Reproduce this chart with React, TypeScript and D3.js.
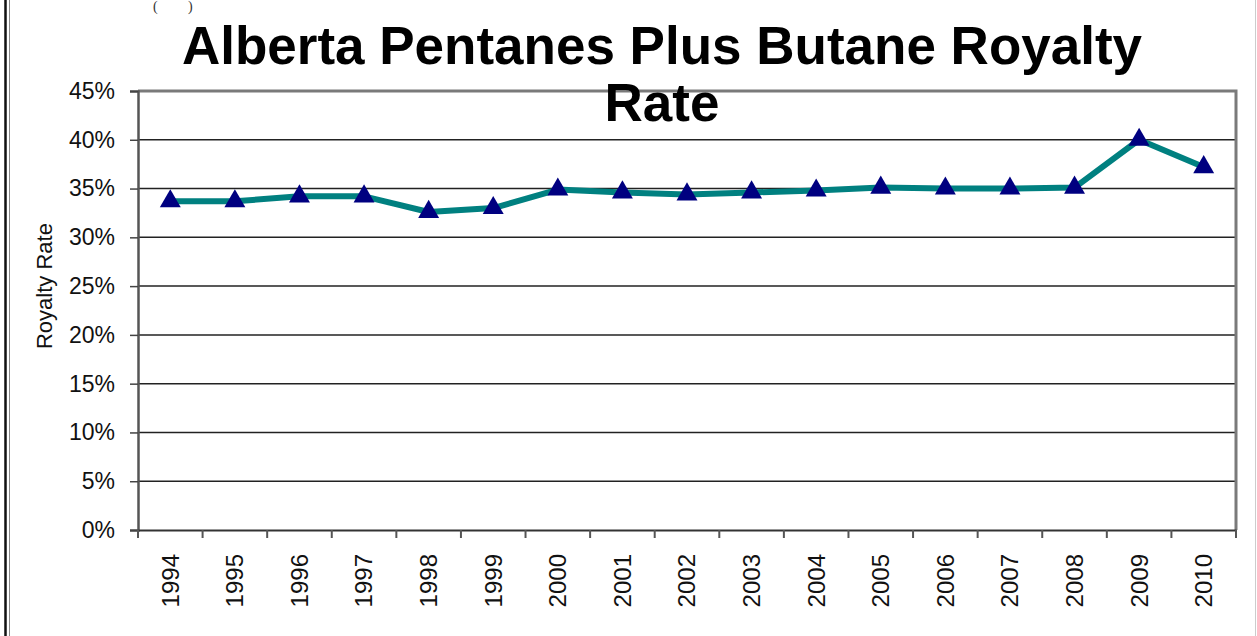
import { useEffect, useRef } from 'react';
import * as d3 from 'd3';

const years = ['1994', '1995', '1996', '1997', '1998', '1999', '2000', '2001', '2002',
    '2003', '2004', '2005', '2006', '2007', '2008', '2009', '2010'];
const royaltyRate = [33.7, 33.7, 34.2, 34.2, 32.6, 33.0, 34.9, 34.6, 34.4,
    34.6, 34.8, 35.1, 35.0, 35.0, 35.1, 40.0, 37.2];
const yTicks = [0, 5, 10, 15, 20, 25, 30, 35, 40, 45];

const titleLines = ['Alberta Pentanes Plus Butane Royalty', 'Rate'];

export default function App() {
    const svgRef = useRef<SVGSVGElement>(null);

    useEffect(() => {
        if (!svgRef.current) return;
        const svg = d3.select(svgRef.current);
        svg.selectAll('*').remove();

        const width = 1257;
        const height = 636;
        const margin = { left: 138, right: 21, top: 91, bottom: 106 };
        const font = 'Liberation Sans, Arial, sans-serif';

        const x = d3.scaleBand<string>()
            .domain(years)
            .range([margin.left, width - margin.right])
            .padding(0);
        const y = d3.scaleLinear()
            .domain([0, 45])
            .range([height - margin.bottom, margin.top]);

        svg.append('rect').attr('width', width).attr('height', height).attr('fill', '#fff');

        // page borders
        svg.append('line').attr('x1', 5.5).attr('x2', 5.5).attr('y1', 0).attr('y2', height)
            .attr('stroke', '#111').attr('stroke-width', 2.5);
        svg.append('line').attr('x1', 9.5).attr('x2', 9.5).attr('y1', 0).attr('y2', height)
            .attr('stroke', '#888').attr('stroke-width', 1);
        svg.append('line').attr('x1', 1255.5).attr('x2', 1255.5).attr('y1', 0).attr('y2', height)
            .attr('stroke', '#ccc').attr('stroke-width', 1);

        // caption fragment at the very top
        svg.append('g')
            .selectAll('text')
            .data([['(', 153], [')', 188]] as [string, number][])
            .enter()
            .append('text')
            .attr('x', d => d[1]).attr('y', 11)
            .style('font-family', 'Liberation Serif, serif')
            .style('font-size', '14px')
            .attr('fill', '#333')
            .text(d => d[0]);

        const x0 = margin.left;
        const x1 = width - margin.right;
        const y0 = y(0);
        const yTop = y(45);

        // gridlines
        svg.append('g')
            .selectAll('line')
            .data(yTicks.filter(d => d > 0 && d < 45))
            .enter()
            .append('line')
            .attr('x1', x0).attr('x2', x1)
            .attr('y1', d => y(d)).attr('y2', d => y(d))
            .attr('stroke', '#222').attr('stroke-width', 1.5);

        // plot frame (top + right grey)
        svg.append('path')
            .attr('d', `M${x0},${yTop}H${x1}V${y0}`)
            .attr('fill', 'none')
            .attr('stroke', '#7a7a7a').attr('stroke-width', 3);

        // y axis
        const yAxis = svg.append('g')
            .attr('transform', `translate(${x0},0)`)
            .call(d3.axisLeft(y).tickValues(yTicks).tickSize(8).tickPadding(15).tickFormat(d => `${d}%`));
        yAxis.select('.domain').attr('stroke', '#555').attr('stroke-width', 2.5);
        yAxis.selectAll('.tick line').attr('stroke', '#444').attr('stroke-width', 1.5);
        yAxis.selectAll('.tick text')
            .style('font-family', font).style('font-size', '23px').attr('fill', '#111');

        // x axis
        const xAxis = svg.append('g')
            .attr('transform', `translate(0,${y0})`)
            .call(d3.axisBottom(x).tickSize(0).tickSizeOuter(0));
        xAxis.select('.domain').attr('stroke', '#333').attr('stroke-width', 2);
        xAxis.selectAll('.tick text')
            .attr('transform', 'rotate(-90)')
            .attr('x', -24).attr('y', 0).attr('dy', '0.35em')
            .attr('text-anchor', 'end')
            .style('font-family', font).style('font-size', '24px').attr('fill', '#111');
        // category separator ticks
        svg.append('g')
            .selectAll('line')
            .data(years.concat(['end']))
            .enter()
            .append('line')
            .attr('x1', (d, i) => i < years.length ? x(d)! : x1)
            .attr('x2', (d, i) => i < years.length ? x(d)! : x1)
            .attr('y1', y0).attr('y2', y0 + 8)
            .attr('stroke', '#555').attr('stroke-width', 2);

        // axis title
        svg.append('text')
            .attr('transform', `translate(52,${(y(30) + y(20)) / 2}) rotate(-90)`)
            .attr('text-anchor', 'middle')
            .style('font-family', font).style('font-size', '22px').attr('fill', '#111')
            .text('Royalty Rate');

        // chart title
        svg.append('g')
            .selectAll('text')
            .data(titleLines)
            .enter()
            .append('text')
            .attr('x', 662)
            .attr('y', (d, i) => 64 + i * 57)
            .attr('text-anchor', 'middle')
            .style('font-family', font).style('font-size', '53px').style('font-weight', 'bold')
            .attr('fill', '#000')
            .text(d => d);

        // line
        const pts = years.map((yr, i) => [x(yr)! + x.bandwidth() / 2, y(royaltyRate[i])] as [number, number]);
        svg.append('path')
            .datum(pts)
            .attr('d', d3.line())
            .attr('fill', 'none')
            .attr('stroke', '#008080').attr('stroke-width', 6)
            .attr('stroke-linejoin', 'round');

        const tri = d3.symbol().type(d3.symbolTriangle).size(190);
        svg.append('g')
            .selectAll('path')
            .data(pts)
            .enter()
            .append('path')
            .attr('d', tri)
            .attr('transform', d => `translate(${d[0]},${d[1]})`)
            .attr('fill', '#000080');
    }, []);

    return (
        <svg ref={svgRef} width={1257} height={636}
            style={{ position: 'absolute', left: 0, top: 0, display: 'block' }} />
    );
}
